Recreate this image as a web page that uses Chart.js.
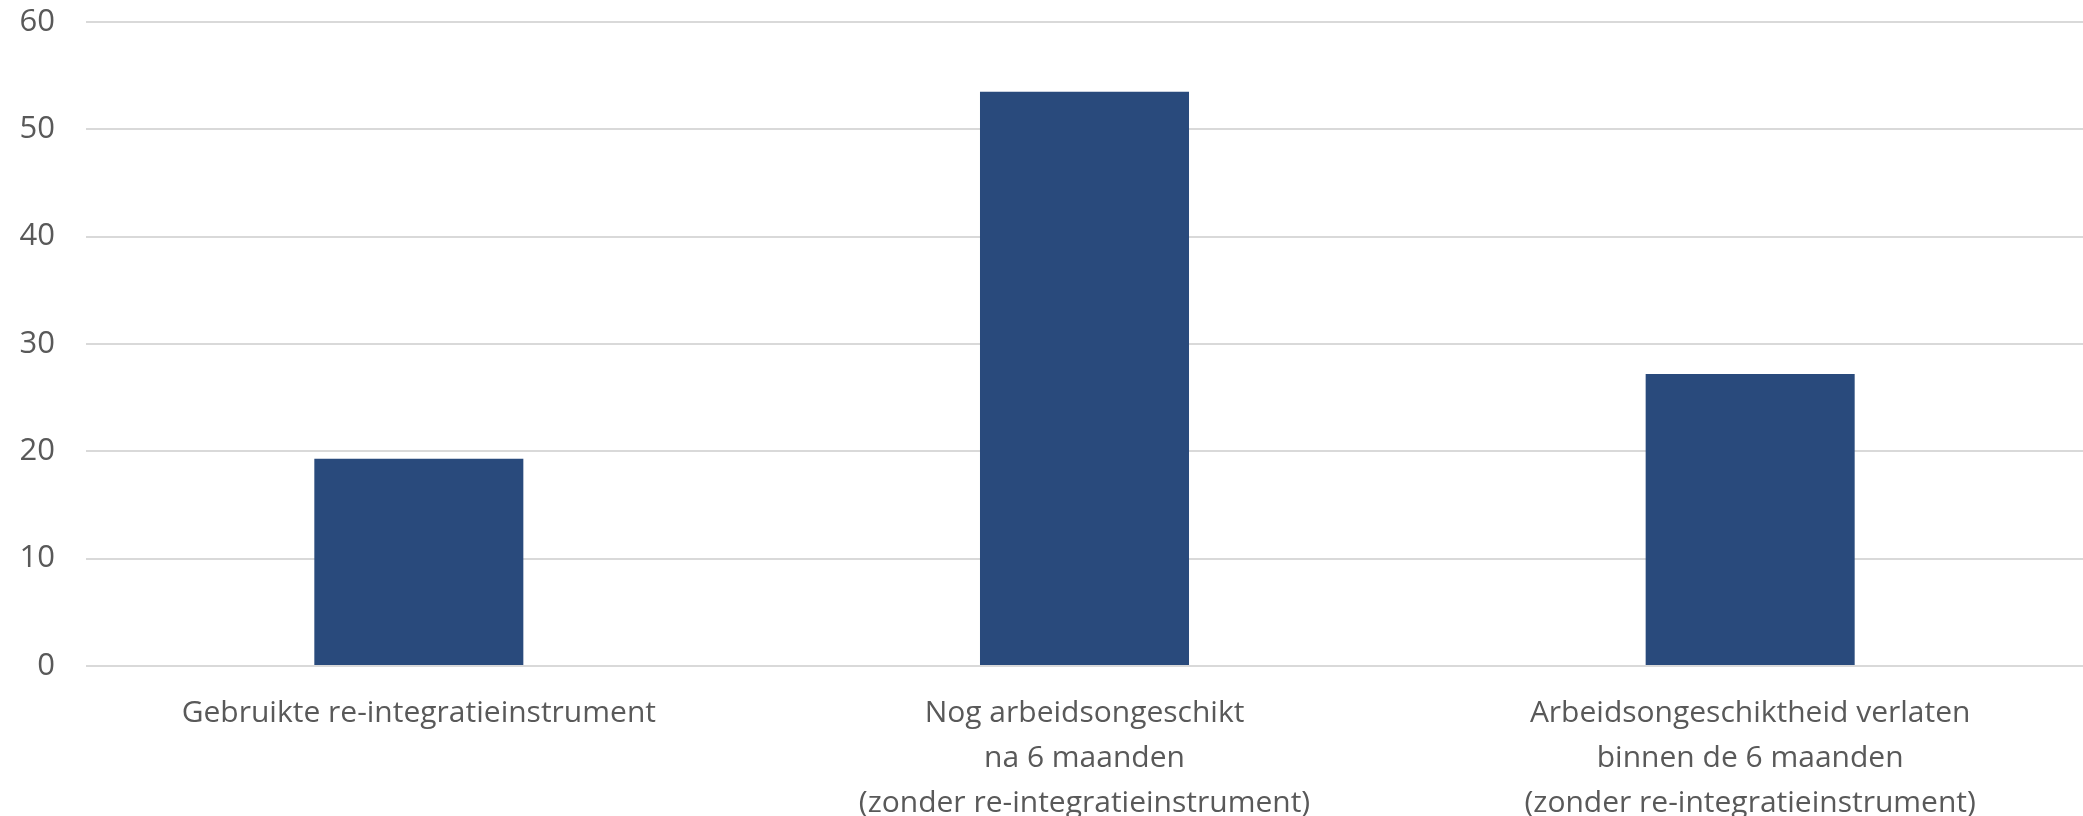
<!DOCTYPE html>
<html lang="nl">
<head>
    <meta charset="UTF-8">
    <title>Re-integratieinstrument</title>
    <script src="https://cdn.jsdelivr.net/npm/chart.js@4.4.1/dist/chart.umd.min.js"></script>
    <style>
        html, body { margin: 0; padding: 0; background: #fff; }
        #wrap { width: 2083px; height: 816px; }
    </style>
</head>
<body>
    <div id="wrap"><canvas id="chart"></canvas></div>
    <script>
        // categories (multi-line labels) and values
        const categories = [
            ['Gebruikte re-integratieinstrument'],
            ['Nog arbeidsongeschikt', 'na 6 maanden', '(zonder re-integratieinstrument)'],
            ['Arbeidsongeschiktheid verlaten', 'binnen de 6 maanden', '(zonder re-integratieinstrument)']
        ];
        const values = [19.3, 53.5, 27.2];
        const yTicks = [0, 10, 20, 30, 40, 50, 60];

        const textColor = '#595959';
        const fontFamily = '"Open Sans", "Segoe UI", sans-serif';

        new Chart(document.getElementById('chart'), {
            type: 'bar',
            data: {
                labels: categories,
                datasets: [{
                    data: values,
                    backgroundColor: '#294A7C',
                    borderWidth: 0,
                    barPercentage: 1,
                    categoryPercentage: 0.314
                }]
            },
            options: {
                responsive: true,
                maintainAspectRatio: false,
                animation: false,
                layout: { padding: { top: 22, right: 0, left: 0, bottom: 0 } },
                plugins: {
                    legend: { display: false },
                    tooltip: { enabled: false }
                },
                scales: {
                    x: {
                        grid: { display: false, drawTicks: false },
                        border: { display: false },
                        ticks: {
                            color: textColor,
                            padding: 25,
                            maxRotation: 0,
                            autoSkip: false,
                            font: { family: fontFamily, size: 30, lineHeight: 1.5 }
                        },
                        afterFit: (scale) => { scale.height = 150; }
                    },
                    y: {
                        min: 0,
                        max: 60,
                        afterBuildTicks: (scale) => { scale.ticks = yTicks.map(v => ({ value: v })); },
                        grid: { color: '#d9d9d9', lineWidth: 2, drawTicks: false },
                        border: { display: false },
                        ticks: {
                            color: textColor,
                            padding: 31,
                            font: { family: fontFamily, size: 31 }
                        },
                        afterFit: (scale) => {
                            scale.width = 86;
                            scale.paddingTop = 0;
                            scale.paddingBottom = 0;
                        }
                    }
                }
            }
        });
    </script>
</body>
</html>
